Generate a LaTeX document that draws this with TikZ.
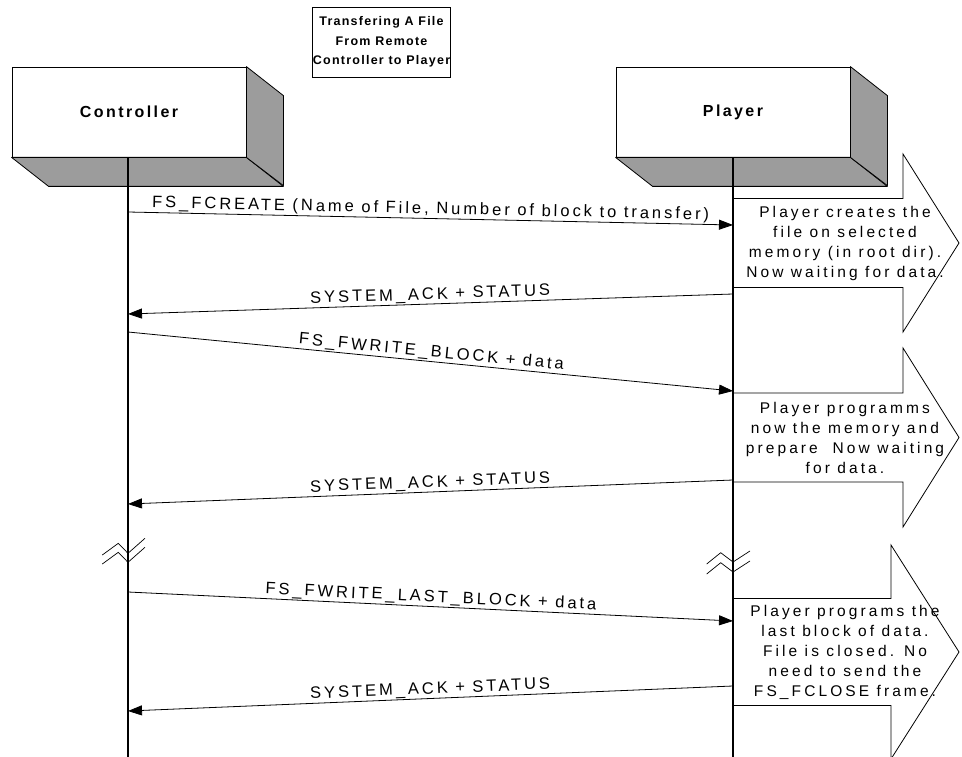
\documentclass[tikz,border=0pt]{standalone}
\usepackage{fontspec}
\setmainfont{Liberation Sans}
\newfontfamily\notefont{Liberation Sans}[LetterSpace=20]
\newfontfamily\msgfont{Liberation Sans}[LetterSpace=18]
\newfontfamily\headfont{Liberation Sans}[LetterSpace=15]
\newfontfamily\titlefont{Liberation Sans}[LetterSpace=10]
\usetikzlibrary{arrows.meta,calc}
\definecolor{boxgray}{RGB}{156,156,156}
\begin{document}
\begin{tikzpicture}[x=1pt,y=-1pt,
  every node/.style={inner sep=0pt},
  front/.style={draw, fill=white, line width=0.8pt, minimum width=234pt, minimum height=90pt,
    font=\headfont\bfseries\fontsize{16}{18}\selectfont},
  face/.style={draw, fill=boxgray, line width=0.8pt, line join=round},
  lifeline/.style={line width=1.4pt},
  msg/.style={line width=0.8pt, -{Triangle[length=14pt,width=10pt]}},
  msglabel/.style={font=\msgfont\fontsize{16.5}{19}\selectfont, sloped, above, inner sep=1pt, pos=0.5},
  blockarrow/.style={draw, fill=white, line width=0.8pt},
  note/.style={font=\notefont\fontsize{15.5}{20}\selectfont, align=center},
  brk/.style={line width=0.7pt},
  titlebox/.style={draw, fill=white, line width=0.8pt, minimum width=137pt, minimum height=70pt,
    align=center, font=\titlefont\bfseries\fontsize{12.5}{19.5}\selectfont}]
\useasboundingbox (0,0) rectangle (962,757);
\fill[white] (0,0) rectangle (962,757);

% title
\node[titlebox] (title) at (381.5,42) {Transfering A File\\From Remote\\Controller to Player};

% participant boxes
\node[front] (ctrl) at (129,112) {Controller};
\node[front] (plyr) at (733,112) {Player};
\foreach \b in {ctrl,plyr}{
  \draw[face] (\b.south west) -- (\b.south east) -- ++(37,29) -- ($(\b.south west)+(37,29)$) -- cycle;
  \draw[face] (\b.north east) -- ++(37,29) -- ++(0,90) -- (\b.south east) -- cycle;
}

% block arrows (notes)
\coordinate (a1) at (733,243);
\coordinate (a2) at (733,437.5);
\coordinate (a3) at (733,652);
\draw[blockarrow] ($(a1)+(0,-44.5)$) -- (903,198.5) -- (903,154) -- (959,243) -- (903,332) -- (903,287.5) -- ($(a1)+(0,44.5)$) -- cycle;
\draw[blockarrow] ($(a2)+(0,-44.5)$) -- (903,393) -- (903,348) -- (959,437.5) -- (903,527) -- (903,482) -- ($(a2)+(0,44.5)$) -- cycle;
\draw[blockarrow] ($(a3)+(0,-53.5)$) -- (891,598.5) -- (891,545) -- (959,652) -- (891,759) -- (891,705.5) -- ($(a3)+(0,53.5)$) -- cycle;

% lifelines
\coordinate (cEnd) at (128,757);
\coordinate (pEnd) at (733,757);
\draw[lifeline] (ctrl.south -| cEnd) -- (cEnd);
\draw[lifeline] (plyr.south -| pEnd) -- (pEnd);

% message end points
\coordinate (m1s) at (128,212); \coordinate (m1e) at (733,225);
\coordinate (m2s) at (733,294); \coordinate (m2e) at (128,314);
\coordinate (m3s) at (128,332); \coordinate (m3e) at (733,391);
\coordinate (m4s) at (733,480); \coordinate (m4e) at (128,504);
\coordinate (m5s) at (128,592); \coordinate (m5e) at (733,621);
\coordinate (m6s) at (733,686); \coordinate (m6e) at (128,711);

\draw[msg] (m1s) -- node[msglabel] (l1) {FS\_FCREATE (Name of File, Number of block to transfer)} (m1e);
\draw[msg] (m2s) -- node[msglabel] (l2) {SYSTEM\_ACK + STATUS} (m2e);
\draw[msg] (m3s) -- node[msglabel] (l3) {FS\_FWRITE\_BLOCK + data} (m3e);
\draw[msg] (m4s) -- node[msglabel] (l4) {SYSTEM\_ACK + STATUS} (m4e);
\draw[msg] (m5s) -- node[msglabel] (l5) {FS\_FWRITE\_LAST\_BLOCK + data} (m5e);
\draw[msg] (m6s) -- node[msglabel] (l6) {SYSTEM\_ACK + STATUS} (m6e);

% break marks
\coordinate (bk1) at (128,553.3);
\coordinate (bk2) at (733,562);
\foreach \d in {0,9}{
  \draw[brk] ($(bk1)+(-25.7,1.7+\d)$) -- ++(16,-11.7) -- ++(9.7,10) -- ++(17,-15);
}
\foreach \d in {0,10}{
  \draw[brk] ($(bk2)+(-26.3,2+\d)$) -- ++(14,-11.3) -- ++(12.3,9.3) -- ++(17,-11);
}

% note texts
\node[note] (n1) at (845,243) {Player creates the\\file on selected\\memory (in root dir).\\Now waiting for data.};
\node[note] (n2) at (845,437.5) {Player programms\\now the memory and\\prepare\ \ Now waiting\\for data.};
\node[note] (n3) at (845,652) {Player programs the\\last block of data.\\File is closed. No\\need to send the\\FS\_FCLOSE frame.};
\end{tikzpicture}
\end{document}
